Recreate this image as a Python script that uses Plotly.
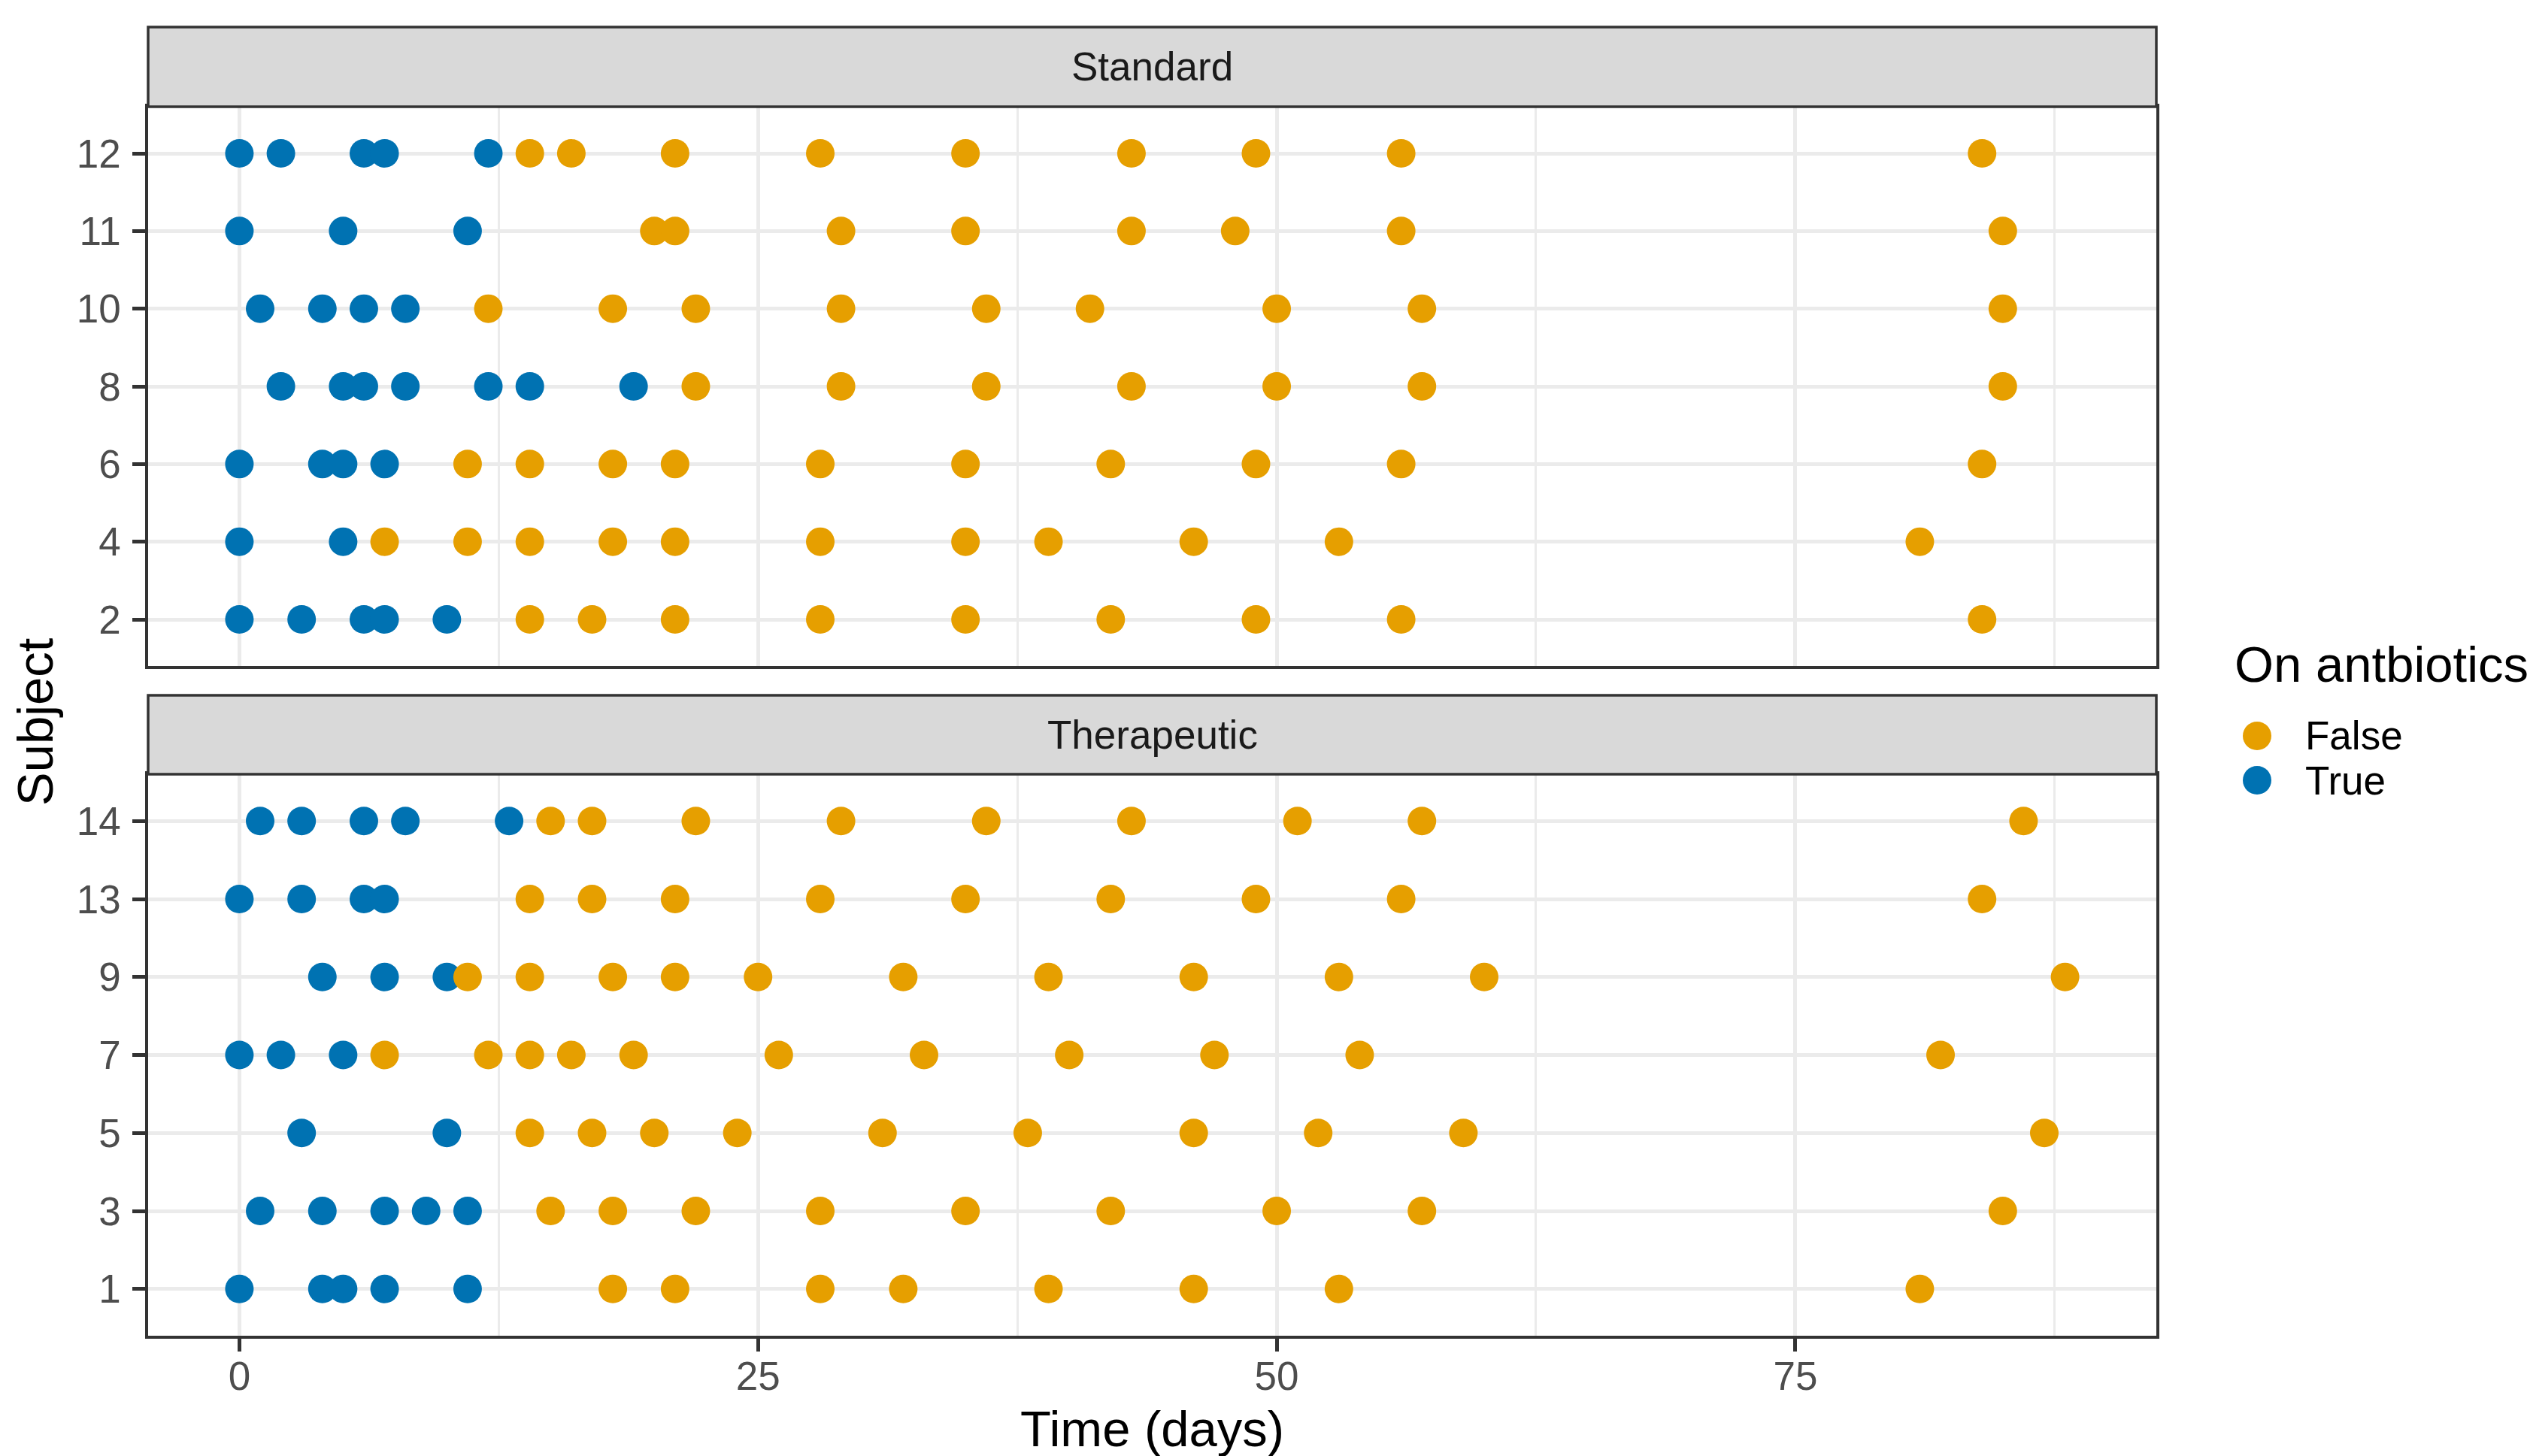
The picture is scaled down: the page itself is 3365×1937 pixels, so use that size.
import plotly.graph_objects as go

# ---------------- data ----------------
std_subjects = ["2", "4", "6", "8", "10", "11", "12"]
ther_subjects = ["1", "3", "5", "7", "9", "13", "14"]

std_on = {
    "12": [0, 2, 6, 7, 12],
    "11": [0, 5, 11],
    "10": [1, 4, 6, 8],
    "8": [2, 5, 6, 8, 12, 14, 19],
    "6": [0, 4, 5, 7],
    "4": [0, 5],
    "2": [0, 3, 6, 7, 10],
}
std_off = {
    "12": [14, 16, 21, 28, 35, 43, 49, 56, 84],
    "11": [20, 21, 29, 35, 43, 48, 56, 85],
    "10": [12, 18, 22, 29, 36, 41, 50, 57, 85],
    "8": [22, 29, 36, 43, 50, 57, 85],
    "6": [11, 14, 18, 21, 28, 35, 42, 49, 56, 84],
    "4": [7, 11, 14, 18, 21, 28, 35, 39, 46, 53, 81],
    "2": [14, 17, 21, 28, 35, 42, 49, 56, 84],
}
ther_on = {
    "14": [1, 3, 6, 8, 13],
    "13": [0, 3, 6, 7],
    "9": [4, 7, 10],
    "7": [0, 2, 5],
    "5": [3, 10],
    "3": [1, 4, 7, 9, 11],
    "1": [0, 4, 5, 7, 11],
}
ther_off = {
    "14": [15, 17, 22, 29, 36, 43, 51, 57, 86],
    "13": [14, 17, 21, 28, 35, 42, 49, 56, 84],
    "9": [11, 14, 18, 21, 25, 32, 39, 46, 53, 60, 88],
    "7": [7, 12, 14, 16, 19, 26, 33, 40, 47, 54, 82],
    "5": [14, 17, 20, 24, 31, 38, 46, 52, 59, 87],
    "3": [15, 18, 22, 28, 35, 42, 50, 57, 85],
    "1": [18, 21, 28, 32, 39, 46, 53, 81],
}

x_ticks = [0, 25, 50, 75]
panel_names = ["Standard", "Therapeutic"]
legend_title = "On antbiotics"
legend_labels = ["False", "True"]

# ---------------- style ----------------
ORANGE = "#E69F00"
BLUE = "#0072B2"
GRID = "#EBEBEB"
DARK = "#333333"
FONT = "Liberation Sans, Arial, Helvetica, sans-serif"

W, H = 3365, 1937
L, R, T, B = 197, 2868, 36, 1777


def px_x(p):
    return (p - L) / (R - L)


def px_y(p):
    return (B - p) / (B - T)


def flatten(d):
    xs, ys = [], []
    for subj, days in d.items():
        for v in days:
            xs.append(v)
            ys.append(subj)
    return xs, ys


fig = go.Figure()
MS = 38

for on_d, off_d, xa, ya in [(std_on, std_off, "x2", "y"), (ther_on, ther_off, "x", "y2")]:
    xs, ys = flatten(on_d)
    fig.add_trace(go.Scatter(x=xs, y=ys, mode="markers", xaxis=xa, yaxis=ya,
                             marker=dict(color=BLUE, size=MS, line=dict(width=0)),
                             name="True", showlegend=False))
    xs, ys = flatten(off_d)
    fig.add_trace(go.Scatter(x=xs, y=ys, mode="markers", xaxis=xa, yaxis=ya,
                             marker=dict(color=ORANGE, size=MS, line=dict(width=0)),
                             name="False", showlegend=False))

common_x = dict(
    range=[-4.4, 92.4], tickvals=x_ticks, showgrid=True, gridcolor=GRID, gridwidth=5,
    minor=dict(tickvals=[12.5, 37.5, 62.5, 87.5], showgrid=True, gridcolor=GRID, gridwidth=3),
    zeroline=False, showline=True, linecolor=DARK, linewidth=3.5, mirror=True,
)
common_y = dict(
    type="category", range=[-0.6, 6.6], showgrid=True, gridcolor=GRID, gridwidth=5,
    zeroline=False, showline=True, linecolor=DARK, linewidth=3.5, mirror=True,
    ticks="outside", ticklen=17, tickwidth=5, tickcolor=DARK,
    tickfont=dict(size=53, color="#4D4D4D", family=FONT), ticklabelstandoff=5,
)

fig.update_layout(
    width=W, height=H,
    margin=dict(l=L, r=W - R, t=T, b=H - B, pad=0),
    plot_bgcolor="white", paper_bgcolor="white",
    showlegend=False,
    font=dict(family=FONT, color="black"),
    xaxis=dict(**common_x, anchor="y2", ticks="outside", ticklen=17, tickwidth=5, tickcolor=DARK,
               tickfont=dict(size=53, color="#4D4D4D", family=FONT), ticklabelstandoff=-12),
    xaxis2=dict(**common_x, anchor="y", matches="x", showticklabels=False, ticks=""),
    yaxis=dict(**common_y, anchor="x2", categoryarray=std_subjects,
               domain=[px_y(886), px_y(142)]),
    yaxis2=dict(**common_y, anchor="x", categoryarray=ther_subjects,
                domain=[0, px_y(1030)]),
)

shapes = []
annotations = []
# facet strips
for name, (top, bot) in zip(panel_names, [(36, 142), (925, 1030)]):
    shapes.append(dict(type="rect", xref="paper", yref="paper", x0=0, x1=1,
                       y0=px_y(bot), y1=px_y(top), fillcolor="#D9D9D9",
                       line=dict(color=DARK, width=3.5)))
    annotations.append(dict(text=name, xref="paper", yref="paper", x=0.5,
                            y=px_y((top + bot) / 2), xanchor="center", yanchor="middle",
                            showarrow=False, font=dict(size=53, color="#1A1A1A", family=FONT)))

# axis titles
annotations.append(dict(text="Time (days)", xref="paper", yref="paper", x=0.5, y=px_y(1900),
                        xanchor="center", yanchor="middle", showarrow=False,
                        font=dict(size=67, color="black", family=FONT)))
annotations.append(dict(text="Subject", xref="paper", yref="paper", x=px_x(46), y=px_y(960),
                        xanchor="center", yanchor="middle", textangle=-90, showarrow=False,
                        font=dict(size=67, color="black", family=FONT)))

# legend (drawn manually so the keys keep the marker size)
annotations.append(dict(text=legend_title, xref="paper", yref="paper", x=px_x(2970), y=px_y(884),
                        xanchor="left", yanchor="middle", showarrow=False,
                        font=dict(size=67, color="black", family=FONT)))
for lab, col, cy in zip(legend_labels, [ORANGE, BLUE], [979, 1038]):
    r = MS / 2
    shapes.append(dict(type="circle", xref="paper", yref="paper",
                       x0=px_x(3002 - r), x1=px_x(3002 + r), y0=px_y(cy + r), y1=px_y(cy - r),
                       fillcolor=col, line=dict(width=0)))
    annotations.append(dict(text=lab, xref="paper", yref="paper", x=px_x(3064), y=px_y(cy),
                            xanchor="left", yanchor="middle", showarrow=False,
                            font=dict(size=53, color="black", family=FONT)))

fig.update_layout(shapes=shapes, annotations=annotations)
fig.write_html("out.html", config={"displayModeBar": False},
               post_script="document.body.style.margin='0';document.body.style.padding='0';")
